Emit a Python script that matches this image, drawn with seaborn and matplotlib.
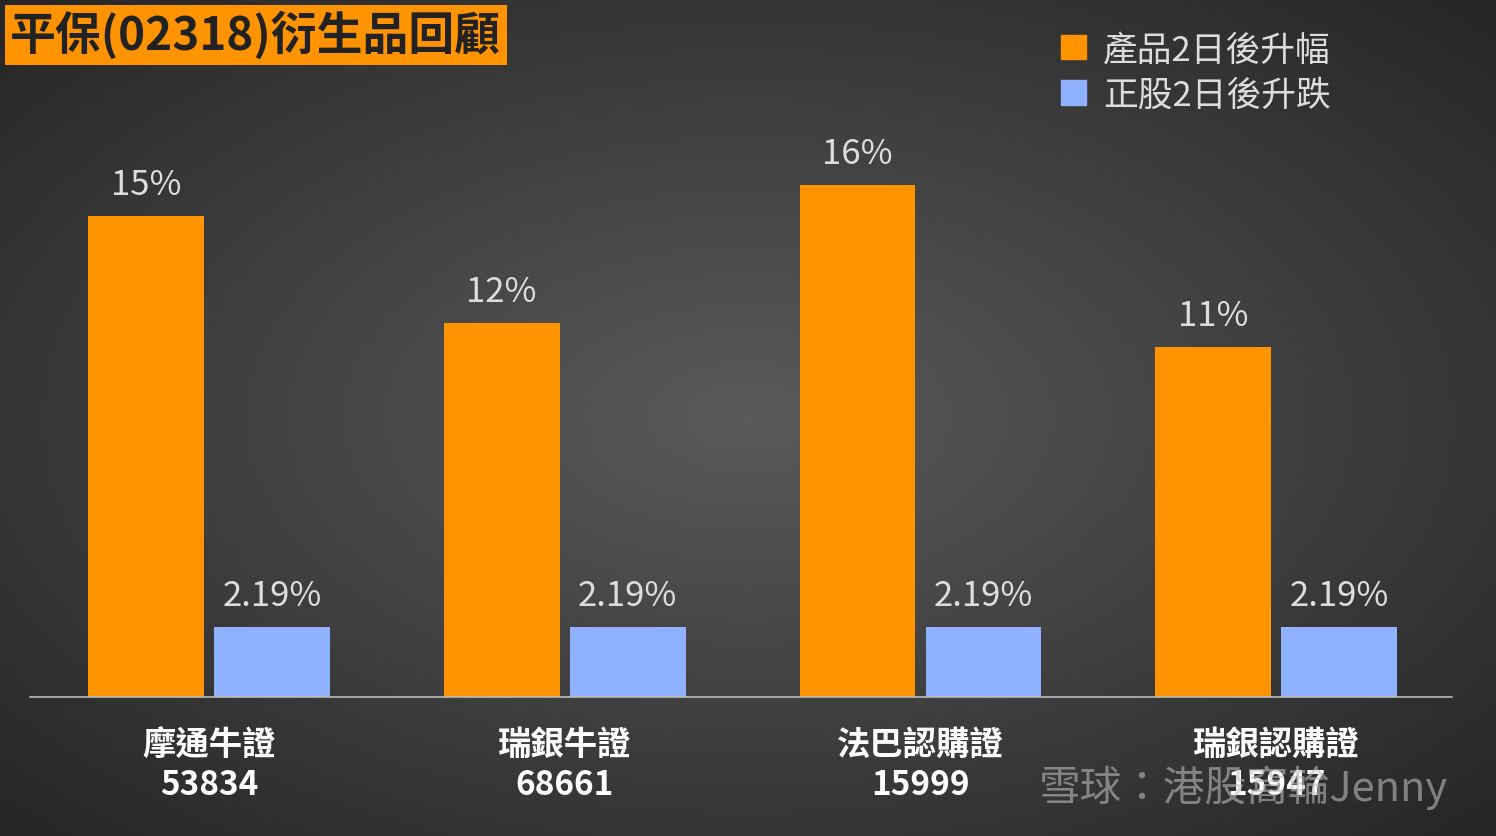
import numpy as np
import pandas as pd
import seaborn as sns
import matplotlib.pyplot as plt
from matplotlib.patches import Patch

categories = ["摩通牛證\n53834", "瑞銀牛證\n68661", "法巴認購證\n15999", "瑞銀認購證\n15947"]
series_names = ["產品2日後升幅", "正股2日後升跌"]
product_vals = [15.0, 11.65, 15.95, 10.9]
product_labels = ["15%", "12%", "16%", "11%"]
stock_vals = [2.19, 2.19, 2.19, 2.19]
stock_labels = ["2.19%", "2.19%", "2.19%", "2.19%"]

sns.set_theme(style="white")
plt.rcParams['font.family'] = ['Noto Sans CJK TC', 'DejaVu Sans']

df = pd.DataFrame({
    "cat": categories * 2,
    "series": [series_names[0]] * 4 + [series_names[1]] * 4,
    "val": product_vals + stock_vals,
})
colors = ["#FF9300", "#8FB1FF"]

fig = plt.figure(figsize=(14.96, 8.37), dpi=100)
bg = fig.add_axes([0, 0, 1, 1], zorder=-10)
yy, xx = np.mgrid[-1:1:300j, -1:1:500j]
r = np.sqrt(xx**2 + yy**2)
bg.imshow(r, cmap=sns.blend_palette(["#5a5a5a", "#262626"], as_cmap=True), aspect='auto',
          extent=[0, 1, 0, 1], vmin=0, vmax=1.4)
bg.axis('off')

ax = fig.add_axes([30/1496, 139/837, 1422/1496, (698-56)/837])
ax.patch.set_alpha(0)
sns.barplot(data=df, x="cat", y="val", hue="series", palette=colors, width=0.708, gap=0.08,
            ax=ax, legend=False, saturation=1, linewidth=0, edgecolor="none")
ax.set_ylim(0, 20)
ax.set_xlim(-0.503, 3.494)
ax.set_xlabel("")
ax.set_ylabel("")
ax.set_yticks([])
for s in ["top", "right", "left"]:
    ax.spines[s].set_visible(False)
ax.spines["bottom"].set_color("#bbbbbb")
ax.spines["bottom"].set_linewidth(1.2)
ax.tick_params(axis='x', length=0, pad=22)
for t in ax.get_xticklabels():
    t.set_color("white"); t.set_fontsize(24); t.set_fontweight("bold"); t.set_linespacing(1.3)

for cont, labs in zip(ax.containers, [product_labels, stock_labels]):
    ax.bar_label(cont, labels=labs, padding=10, color="#dddddd", fontsize=25)

fig.text(10/1496, 1 - 36/837, "平保(02318)衍生品回顧", fontsize=33, fontweight="bold", color="#222222",
         va="center", ha="left",
         bbox=dict(boxstyle="square,pad=0.12", fc="#FF9300", ec="none"))

handles = [Patch(color=c) for c in colors]
fig.legend(handles, series_names, loc="upper left", bbox_to_anchor=(1030/1496, 1 - 2/837),
           frameon=False, fontsize=25, labelcolor="#dddddd", handlelength=0.7, handleheight=0.7,
           handletextpad=0.5, labelspacing=0.3)

fig.text(1448/1496, 1 - 788/837, "雪球：港股窩輪Jenny", fontsize=30, color="#bbbbbb", alpha=0.6,
         ha="right", va="center")

fig.savefig("out.png", dpi=100)
